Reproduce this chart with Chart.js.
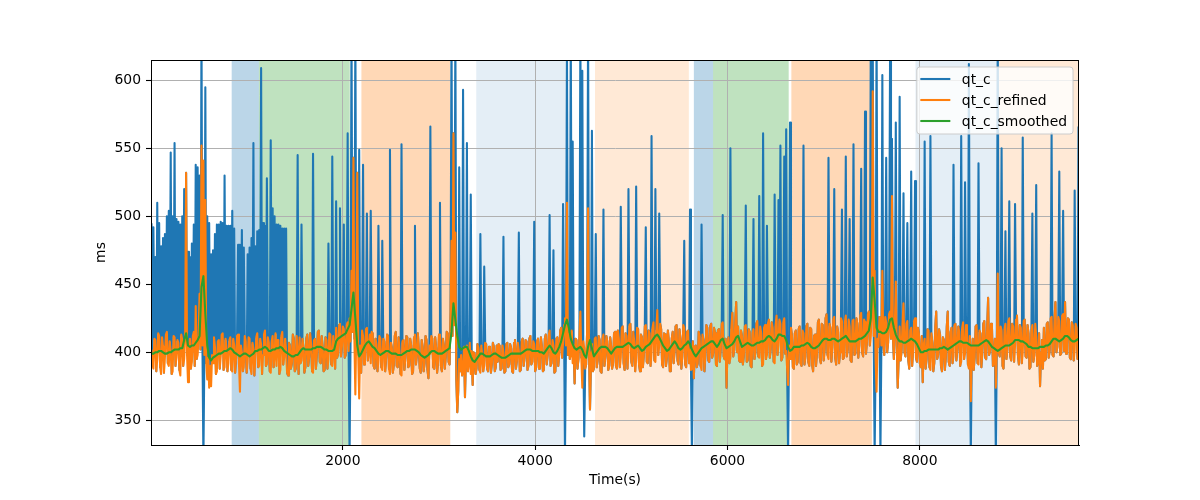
<!DOCTYPE html>
<html>
<head>
<meta charset="utf-8">
<script src="https://cdn.jsdelivr.net/npm/chart.js@4.4.1/dist/chart.umd.min.js"></script>
<style>
html, body { margin: 0; padding: 0; background: #fff; }
#wrap { width: 1200px; height: 500px; position: relative; }
</style>
</head>
<body>
<div id="wrap"><canvas id="chart_qtc"></canvas></div>
<script>
// refined series: one sample every 10 s from t = 10 s; smoothed: every 20 s
const startTime = 10;
const refinedStep = 10;
const smoothedStep = 20;

const qtcRefined = [
  402,391,388,410,409,386,395,414,412,389,384,411,404,385,397,413,415,392,390,408,401,384,386,412,411,390,396,409,407,387,383,413,409,390,395,412,532,398,378,405,
  410,388,393,412,415,390,434,395,398,412,443,402,552,405,541,398,512,392,380,396,374,390,375,398,392,411,404,384,386,408,409,388,397,413,414,387,389,410,403,386,
  392,409,411,387,386,410,405,385,396,412,413,391,371,405,400,386,389,412,408,385,393,411,410,388,384,407,402,383,395,411,414,389,390,410,406,384,398,413,416,390,
  391,411,407,386,385,408,412,389,398,414,390,409,409,384,387,412,415,391,396,410,401,385,383,407,405,388,392,413,410,386,388,412,399,384,411,392,394,410,404,385,
  389,410,413,390,397,414,406,386,385,409,410,388,399,415,416,393,392,412,404,386,387,411,409,388,395,414,413,391,390,412,402,388,418,396,399,420,421,397,404,419,
  417,396,398,420,422,401,425,408,460,415,543,410,369,420,532,398,366,405,385,416,412,391,395,417,418,394,401,413,392,415,414,390,388,410,406,386,394,412,410,389,
  387,410,408,386,396,413,412,388,384,407,403,385,391,412,415,390,389,411,400,384,383,408,409,387,396,412,411,389,390,410,405,384,386,411,413,391,398,414,402,388,
  385,409,404,386,392,412,409,387,381,405,399,412,410,389,388,411,403,385,393,413,412,390,386,410,405,388,397,415,414,393,391,430,482,412,561,420,488,380,356,372,
  395,386,398,383,385,404,367,398,405,386,392,407,384,401,376,400,399,384,388,406,403,387,385,405,397,386,390,407,406,388,386,404,401,385,392,407,404,386,389,405,
  393,406,405,387,388,405,400,385,386,406,407,389,391,406,403,386,385,407,409,388,394,407,401,386,387,408,410,390,396,409,408,387,390,410,412,391,393,408,406,386,
  389,408,410,388,395,411,404,386,387,410,413,391,398,412,416,390,392,409,405,385,386,410,411,390,399,416,418,396,407,420,425,405,510,398,413,395,398,416,392,405,
  377,410,409,388,395,412,430,396,374,408,403,388,391,415,506,400,358,392,406,386,388,410,411,389,394,412,409,386,385,410,413,390,397,412,408,387,390,411,404,388,
  392,414,415,390,388,416,410,389,396,418,419,392,387,414,412,388,401,420,421,393,390,415,408,386,395,418,417,391,386,413,411,389,398,419,420,393,392,416,414,390,
  400,418,422,394,393,417,431,398,405,421,417,391,389,414,413,390,396,416,408,386,386,410,415,392,401,419,420,394,391,417,410,388,397,420,418,391,389,415,416,392,
  402,387,388,408,381,404,405,389,392,415,412,390,387,413,409,386,398,420,418,394,393,419,421,396,399,418,414,391,390,416,417,393,403,421,422,397,395,410,374,405,
  411,392,396,418,429,397,402,421,437,400,419,394,393,416,412,391,398,419,420,393,394,417,415,390,389,414,417,395,400,421,423,397,396,419,414,390,391,418,420,395,
  398,421,424,396,403,422,418,393,392,420,427,398,405,424,421,394,396,422,425,399,401,388,376,405,395,418,412,389,388,414,416,391,393,417,419,392,390,416,414,391,
  397,419,421,393,390,418,417,391,386,412,413,390,399,422,424,396,392,421,420,394,402,425,428,398,395,421,418,393,404,424,426,396,391,419,415,392,400,425,423,395,
  396,422,427,397,402,424,419,394,393,423,424,398,399,425,421,396,405,427,429,400,397,424,422,399,408,428,430,405,412,430,592,412,460,395,371,410,404,426,425,405,
  460,405,398,426,422,400,407,428,430,410,515,412,395,420,452,405,374,396,419,394,401,422,436,400,397,421,423,394,388,416,418,390,402,423,425,396,393,418,414,392,
  389,412,378,405,410,388,395,417,416,389,387,414,407,386,392,418,430,395,398,417,413,390,386,411,409,387,396,419,430,393,390,415,418,392,397,420,421,394,402,419,
  415,390,393,418,422,395,399,420,417,391,388,412,364,398,410,387,396,419,420,392,391,416,414,389,400,421,423,396,395,418,440,398,401,421,418,390,392,410,374,402,
  458,400,397,419,416,390,388,417,421,395,402,423,425,397,394,421,419,393,405,424,427,398,391,420,418,392,400,423,424,397,396,420,414,388,389,416,420,393,398,421,
  412,390,393,414,375,400,409,388,418,394,395,421,422,396,401,425,426,398,397,424,437,400,404,426,423,398,399,427,428,401,437,399,406,425,424,396,395,422,420,394,
  402,421,418,395,396
];

const qtcSmoothed = [
  399,399,400,400,401,401,400,399,399,400,400,401,402,402,402,403,403,409,414,405,
  404,405,405,407,409,412,448,456,428,405,396,394,396,397,398,399,399,400,401,401,
  402,403,402,400,399,398,397,398,399,399,398,397,398,399,401,401,402,402,403,404,
  403,401,401,402,402,403,403,404,403,401,400,399,398,397,397,398,398,400,402,403,
  402,402,402,402,403,403,404,404,404,403,402,402,401,401,401,402,408,410,411,412,
  413,414,417,420,432,444,425,405,397,399,402,405,407,408,406,404,403,401,399,398,
  399,400,401,401,400,399,399,399,398,398,398,399,400,401,401,402,402,402,401,400,
  398,397,396,397,398,400,401,401,400,399,399,399,400,401,402,403,415,436,424,412,
  404,402,403,404,404,401,397,394,393,395,397,399,399,398,397,397,397,398,399,399,
  398,397,396,396,396,397,398,399,399,399,399,399,399,400,401,402,402,402,401,401,
  401,401,400,400,399,401,403,405,403,400,399,401,404,408,414,420,424,418,410,406,
  403,402,403,404,402,398,396,404,409,403,397,399,401,403,404,404,404,403,401,399,
  401,403,404,404,404,404,405,406,407,406,404,403,404,405,403,401,402,404,405,406,
  408,410,412,413,411,408,405,403,401,402,404,406,408,406,403,402,403,405,406,408,
  406,402,399,397,399,401,403,404,405,406,407,408,408,406,404,406,409,410,406,403,
  404,405,406,408,411,412,408,404,405,406,407,406,405,405,406,407,407,408,408,409,
  411,412,411,409,408,410,413,413,412,412,409,404,401,402,404,404,404,404,405,405,
  406,407,406,404,403,403,404,405,407,409,410,410,409,409,410,410,409,408,409,410,
  411,412,410,408,408,408,408,409,410,410,411,412,414,416,425,455,438,418,415,415,
  414,414,415,418,424,425,418,413,410,408,408,407,407,408,409,410,409,408,406,403,
  400,400,401,401,402,402,402,402,402,402,403,403,404,403,402,403,404,405,406,407,
  408,408,407,407,407,406,405,405,405,405,405,406,407,408,409,408,406,404,403,402,
  401,402,403,404,405,405,405,406,407,409,409,409,408,408,407,406,404,404,403,403,
  403,403,404,404,404,405,405,406,408,410,410,409,408,409,410,412,412,411,409,408,
  408,409,410
];

// raw qt_c differs from the refined series only at these samples (s, ms)
const spikeTimes = [
  10,30,50,70,90,110,130,150,170,190,210,230,250,270,290,310,330,350,390,410,
  430,450,470,490,510,530,550,570,590,610,630,650,670,690,710,730,750,770,790,810,
  830,850,870,910,930,950,970,1010,1030,1050,1070,1090,1110,1130,1150,1170,1190,1210,1250,1270,
  1290,1310,1330,1350,1370,1390,1410,1530,1570,
  1690,1850,1890,1930,1970,2010,2050,2070,2090,2130,2170,2210,2250,2290,2370,2410,2490,2610,2750,2910,
  3010,3130,3170,3210,3250,3290,3330,3430,3470,3670,3830,3990,4150,4190,4290,4310,4330,4370,4390,4470,
  4490,4510,4550,4590,4630,4710,4890,4970,5050,5150,5210,5250,5290,5550,5610,5630,5730,5950,6030,6190,
  6270,6330,6370,6410,6490,6530,6550,6590,6610,6630,6650,6790,7050,7110,7190,7230,7270,7310,7390,7430,
  7490,7510,7530,7550,7590,7610,7650,7690,7710,7750,7790,7830,7870,7910,7950,8050,8110,8350,8430,8470,
  8510,8530,8610,8790,8810,8850,8890,8930,8990,9070,9170,9210,9370,9450,9490,9610,9650
];
const spikeValues = [
  495,492,470,510,495,478,484,487,500,504,547,500,554,498,496,494,500,520,474,470,
  480,494,538,536,530,640,320,595,500,495,472,475,487,494,494,496,495,530,493,493,
  493,504,491,479,479,490,477,472,477,484,554,478,489,490,609,495,493,528,556,506,
  500,494,494,493,491,491,491,545,494,
  546,480,544,511,506,494,561,325,640,640,549,538,502,504,493,482,549,553,493,566,
  510,640,640,536,593,554,516,487,463,485,488,496,501,475,509,325,640,640,555,640,
  607,338,640,563,487,505,507,520,522,492,559,520,502,482,505,325,494,501,550,508,
  498,515,561,493,516,512,552,544,564,325,569,552,543,520,505,544,498,553,535,577,
  640,640,325,640,325,604,543,614,557,569,588,517,495,533,526,555,559,538,559,525,
  612,325,539,325,640,550,489,511,509,558,502,523,561,533,504,519,566
];

const xTicks = [2000, 4000, 6000, 8000];
const yTicks = [350, 400, 450, 500, 550, 600];

// shaded segments (s)
const spanStarts = [844, 1127, 2193, 3387, 4622, 5650, 5850, 6664, 7955, 8819];
const spanEnds   = [1127, 2072, 3117, 4311, 5598, 5850, 6636, 7501, 8819, 9700];
const spanColors = [
  'rgba(31,119,180,0.3)', 'rgba(44,160,44,0.3)', 'rgba(255,127,14,0.3)',
  'rgba(31,119,180,0.12)', 'rgba(255,127,14,0.17)', 'rgba(31,119,180,0.3)',
  'rgba(44,160,44,0.3)', 'rgba(255,127,14,0.3)', 'rgba(31,119,180,0.12)',
  'rgba(255,127,14,0.17)'
];

const qtc = qtcRefined.slice();
spikeTimes.forEach((t, k) => { qtc[Math.round((t - startTime) / refinedStep)] = spikeValues[k]; });

const toPoints = (vals, step) => vals.map((v, i) => ({ x: startTime + i * step, y: v }));

const FONT = { family: 'DejaVu Sans', size: 13.9 };
const LINE_W = 2.08;   // 1.5 pt at 100 dpi
Chart.defaults.color = '#000';
Chart.defaults.font.family = 'DejaVu Sans';

const line = (label, points, color, order) => ({
  label: label,
  data: points,
  borderColor: color,
  backgroundColor: color,
  borderWidth: LINE_W,
  borderJoinStyle: 'round',
  pointRadius: 0,
  pointHoverRadius: 0,
  fill: false,
  tension: 0,
  order: order
});

var chart_qtc = new Chart(document.getElementById('chart_qtc'), {
    type: 'line',
    data: {
        datasets: [
            line('qt_c', toPoints(qtc, refinedStep), '#1f77b4', 3),
            line('qt_c_refined', toPoints(qtcRefined, refinedStep), '#ff7f0e', 2),
            line('qt_c_smoothed', toPoints(qtcSmoothed, smoothedStep), '#2ca02c', 1)
        ]
    },
    options: {
        animation: false,
        responsive: true,
        maintainAspectRatio: false,
        events: [],
        layout: { padding: { left: 89, right: 121, top: 60, bottom: 7 } },
        plugins: {
            legend: { display: false },
            tooltip: { enabled: false }
        },
        scales: {
            x: {
                type: 'linear',
                min: 5,
                max: 9655,
                afterBuildTicks: (s) => { s.ticks = xTicks.map(v => ({ value: v })); },
                afterFit: (s) => { s.height = 48; },
                grid: { color: '#b0b0b0', lineWidth: 1, tickColor: '#000', tickLength: 5, tickWidth: 1.1 },
                border: { color: '#000', width: 1 },
                ticks: { font: FONT, padding: 3, maxRotation: 0, callback: (v) => String(v) },
                title: { display: true, text: 'Time(s)', font: FONT, padding: { top: 4, bottom: 4 } }
            },
            y: {
                type: 'linear',
                min: 331.8,
                max: 615,
                afterBuildTicks: (s) => { s.ticks = yTicks.map(v => ({ value: v })); },
                afterFit: (s) => { s.width = 62; },
                grid: { color: '#b0b0b0', lineWidth: 1, tickColor: '#000', tickLength: 5, tickWidth: 1.1 },
                border: { color: '#000', width: 1 },
                ticks: { font: FONT, padding: 5, callback: (v) => String(v) },
                title: { display: true, text: 'ms', font: FONT, padding: { top: 4, bottom: 4 } }
            }
        }
    },
    plugins: [{
        id: 'spans',
        beforeDraw: (chart) => {
            const ctx = chart.ctx, ca = chart.chartArea, x = chart.scales.x;
            ctx.save();
            ctx.fillStyle = 'white';
            ctx.fillRect(0, 0, chart.width, chart.height);
            ctx.beginPath();
            ctx.rect(ca.left, ca.top, ca.right - ca.left, ca.bottom - ca.top);
            ctx.clip();
            spanStarts.forEach((s, i) => {
                const a = x.getPixelForValue(s), b = x.getPixelForValue(spanEnds[i]);
                ctx.fillStyle = spanColors[i];
                ctx.fillRect(a, ca.top, b - a, ca.bottom - ca.top);
            });
            ctx.restore();
        }
    }, {
        id: 'frameAndLegend',
        afterDraw: (chart) => {
            const ctx = chart.ctx, ca = chart.chartArea;
            ctx.save();
            ctx.strokeStyle = '#000';
            ctx.lineWidth = 1;
            ctx.strokeRect(Math.round(ca.left) + 0.5, Math.round(ca.top) + 0.5,
                           Math.round(ca.right - ca.left) - 1, Math.round(ca.bottom - ca.top));

            // legend, upper right
            ctx.font = '13.9px "DejaVu Sans"';
            const sets = chart.data.datasets;
            let tw = 0;
            sets.forEach(d => { tw = Math.max(tw, ctx.measureText(d.label).width); });
            const w = 45 + tw + 6, h = 67;
            const left = ca.right - 6 - w, top = ca.top + 7;
            ctx.beginPath();
            if (ctx.roundRect) ctx.roundRect(left, top, w, h, 3); else ctx.rect(left, top, w, h);
            ctx.fillStyle = 'rgba(255,255,255,0.8)';
            ctx.fill();
            ctx.strokeStyle = '#cccccc';
            ctx.stroke();
            sets.forEach((d, k) => {
                const y = top + 12 + k * 21;
                ctx.strokeStyle = d.borderColor;
                ctx.lineWidth = LINE_W;
                ctx.beginPath();
                ctx.moveTo(left + 3.5, y);
                ctx.lineTo(left + 33.5, y);
                ctx.stroke();
                ctx.fillStyle = '#000';
                ctx.textBaseline = 'middle';
                ctx.fillText(d.label, left + 45, y + 1);
            });
            ctx.restore();
        }
    }]
});
</script>
</body>
</html>
